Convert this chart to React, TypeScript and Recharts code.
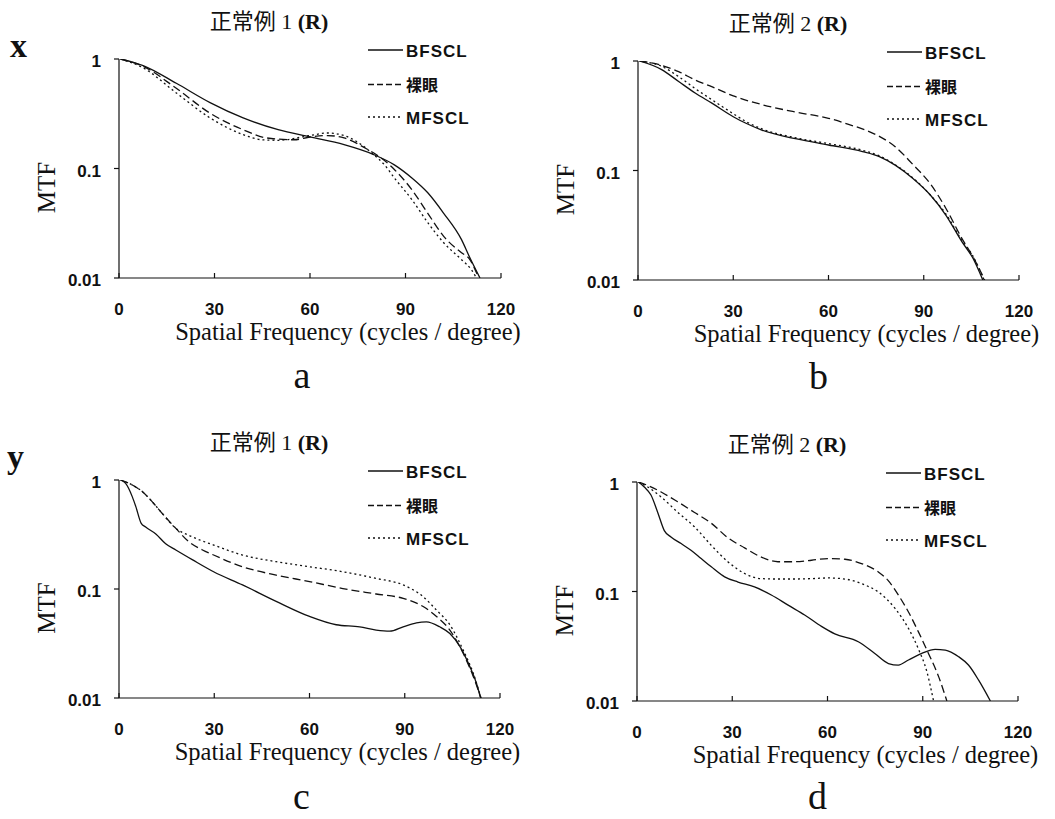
import React from 'react';
import { LineChart, Line, XAxis, YAxis } from 'recharts';

type P = [number, number];

// ---------- data (spatial frequency, MTF) ----------
const aBFSCL: P[] = [[0.5,1],[7.6,0.87],[18,0.6],[28.6,0.4],[39,0.29],[50,0.226],[60,0.194],[70.7,0.165],[80,0.134],[86.5,0.108],[92,0.082],[97,0.06],[102,0.039],[107.6,0.0224],[110,0.0158],[113.4,0.01]];
const aNaked: P[] = [[0.5,1],[7.6,0.857],[18,0.54],[28.6,0.32],[39,0.226],[46.5,0.19],[55,0.183],[60,0.194],[65.5,0.2],[70.7,0.19],[78,0.15],[81,0.133],[86.5,0.098],[92,0.064],[97,0.039],[102,0.024],[107.6,0.017],[110,0.015],[113,0.01]];
const aMFSCL: P[] = [[0.5,1],[7.6,0.83],[18,0.49],[28.6,0.29],[39,0.204],[44.9,0.183],[50,0.181],[60,0.2],[65.5,0.211],[70.7,0.2],[80,0.134],[83.4,0.108],[86.5,0.082],[92,0.052],[97,0.032],[102,0.021],[107.6,0.0147],[110.7,0.0119],[112.3,0.01]];

const bBFSCL: P[] = [[0.5,1],[7.6,0.83],[12.8,0.65],[18,0.51],[23.4,0.41],[30,0.31],[34,0.27],[39,0.234],[50,0.194],[60,0.171],[70.7,0.149],[76,0.134],[81,0.112],[86.5,0.085],[92,0.06],[97,0.039],[102,0.0224],[105.5,0.0158],[108.6,0.01]];
const bNaked: P[] = [[0.5,1],[7.6,0.91],[12.8,0.8],[18,0.67],[23.4,0.58],[30,0.48],[39,0.4],[50,0.34],[60,0.3],[67,0.26],[72,0.232],[76,0.205],[81,0.165],[86.5,0.114],[92,0.076],[97,0.045],[102,0.024],[105.5,0.0163],[109.2,0.01]];
const bMFSCL: P[] = [[0.5,1],[7.6,0.89],[12.8,0.72],[18,0.56],[23.4,0.44],[30,0.33],[34,0.28],[39,0.24],[50,0.198],[60,0.176],[70.7,0.153],[76,0.136],[81,0.113],[86.5,0.086],[92,0.06],[97,0.04],[102,0.023],[105.5,0.0165],[109,0.01]];

const cBFSCL: P[] = [[0.5,1],[2.1,0.93],[4.2,0.7],[5.3,0.57],[7,0.4],[8.4,0.37],[11.6,0.32],[14.7,0.26],[17.9,0.228],[23.2,0.185],[29.8,0.144],[38.9,0.109],[49.5,0.077],[60,0.056],[68.4,0.047],[75.8,0.045],[81,0.042],[85.3,0.041],[89.5,0.045],[93.7,0.049],[96.8,0.05],[101,0.045],[104.2,0.039],[107.4,0.0296],[110.5,0.0194],[112.6,0.0136],[113.9,0.01]];
const cNaked: P[] = [[0.5,1],[4.2,0.9],[7.4,0.78],[10.5,0.63],[13.7,0.49],[17.9,0.36],[22.1,0.27],[26.3,0.228],[29.8,0.205],[38.9,0.16],[49.5,0.134],[60,0.117],[70.5,0.101],[81,0.09],[89.5,0.082],[95.8,0.069],[100,0.056],[104.2,0.042],[108.4,0.0257],[111.6,0.0157],[114,0.01]];
const cMFSCL: P[] = [[0.5,1],[4.2,0.9],[7.4,0.78],[10.5,0.63],[13.7,0.49],[17.9,0.36],[22.1,0.31],[29.8,0.253],[38.9,0.205],[49.5,0.178],[60,0.16],[70.5,0.144],[81,0.125],[89.5,0.109],[95.8,0.085],[100,0.064],[104.2,0.047],[108.4,0.0275],[111.6,0.0168],[114,0.01]];

const dBFSCL: P[] = [[0.5,1],[2.3,0.9],[4.4,0.76],[6.5,0.53],[8.6,0.36],[10.7,0.315],[13.9,0.274],[17,0.238],[20.2,0.2],[23.4,0.168],[27.6,0.136],[31.8,0.122],[37,0.11],[42.3,0.093],[47.6,0.075],[52.8,0.061],[58.1,0.048],[62.3,0.041],[69.7,0.0348],[74.9,0.0272],[79.2,0.022],[82.3,0.0213],[85.5,0.0237],[89.7,0.0272],[93.9,0.0296],[97.1,0.0292],[101.3,0.0254],[104.4,0.0213],[107.6,0.0155],[111.3,0.01]];
const dNaked: P[] = [[0.5,1],[3.4,0.93],[7.6,0.81],[12.8,0.66],[18,0.53],[23.4,0.42],[28.6,0.31],[33.9,0.25],[39,0.207],[44.4,0.187],[49.7,0.187],[55,0.193],[60.2,0.2],[65.5,0.197],[70.7,0.18],[76,0.151],[79,0.127],[82.3,0.093],[85.5,0.065],[88.6,0.043],[91.8,0.0272],[95,0.0167],[97.6,0.01]];
const dMFSCL: P[] = [[0.5,1],[3.4,0.9],[7.6,0.73],[12.8,0.53],[18.1,0.39],[23.4,0.264],[28.6,0.187],[33.9,0.146],[39.2,0.131],[44.4,0.13],[49.7,0.13],[54.9,0.131],[60.2,0.133],[65.5,0.13],[70.7,0.118],[76,0.099],[81.3,0.07],[85.5,0.046],[88.6,0.03],[91.3,0.0185],[93.4,0.01]];

const seriesNames = ['BFSCL', '裸眼', 'MFSCL'];
const seriesDash = ['', '8 4', '2 3'];
const xTicks = [0, 30, 60, 90, 120];
const yTicks = [0.01, 0.1, 1];
const yTickLabels = ['0.01', '0.1', '1'];
const panelTitles = ['正常例 1', '正常例 2', '正常例 1', '正常例 2'];
const panelLetters = ['a', 'b', 'c', 'd'];
const rowLetters = ['x', 'y'];
const xTitle = 'Spatial Frequency (cycles / degree)';
const yTitle = 'MTF';

const panelData: P[][][] = [
  [aBFSCL, aNaked, aMFSCL],
  [bBFSCL, bNaked, bMFSCL],
  [cBFSCL, cNaked, cMFSCL],
  [dBFSCL, dNaked, dMFSCL],
];

// ---------- layout ----------
const plots = [
  { L: 119, T: 59, W: 382, H: 219 },
  { L: 638, T: 61, W: 381, H: 219 },
  { L: 119, T: 480, W: 381, H: 218 },
  { L: 637, T: 482, W: 381, H: 219 },
];
const letterBaselines = [388, 389, 809, 809];
const YW = 62;
const MT = 10;
const MR = 26;
const XH = 50;

const INK = '#111';
const SANS = "'Liberation Sans', Arial, Helvetica, sans-serif";
const SERIF = "'Liberation Serif', 'Times New Roman', 'Noto Sans CJK JP', serif";

const toPts = (arr: P[]) => arr.map(([f, v]) => ({ f, v }));

const XTick = (props: any) => {
  const { x, y, payload } = props;
  return (
    <g>
      <line x1={x} x2={x} y1={y} y2={y - 5} stroke={INK} strokeWidth={1.2} />
      <text x={x} y={y + 37} textAnchor="middle" fontFamily={SANS} fontWeight="bold" fontSize={17} fill={INK}>
        {payload.value}
      </text>
    </g>
  );
};

const YTick = (props: any) => {
  const { x, y, payload } = props;
  const idx = yTicks.indexOf(payload.value);
  return (
    <g>
      <line x1={x} x2={x - 5} y1={y} y2={y} stroke={INK} strokeWidth={1.2} />
      <text x={x - 18} y={y + 8} textAnchor="end" fontFamily={SANS} fontWeight="bold" fontSize={17} fill={INK}>
        {idx >= 0 ? yTickLabels[idx] : String(payload.value)}
      </text>
    </g>
  );
};

function Panel({ i }: { i: number }) {
  const p = plots[i];
  const w = YW + p.W + MR;
  const h = MT + p.H + XH;
  return (
    <div style={{ position: 'absolute', left: p.L - YW, top: p.T - MT, width: w, height: h }}>
      <LineChart width={w} height={h} margin={{ top: MT, right: MR, bottom: 0, left: 0 }}>
        <XAxis
          type="number"
          dataKey="f"
          domain={[0, 120]}
          ticks={xTicks}
          allowDataOverflow
          height={XH}
          tickSize={0}
          tickMargin={0}
          tickLine={false}
          axisLine={{ stroke: INK, strokeWidth: 1.2 }}
          tick={<XTick />}
          interval={0}
        />
        <YAxis
          type="number"
          dataKey="v"
          scale="log"
          domain={[0.01, 1]}
          ticks={yTicks}
          allowDataOverflow
          width={YW}
          tickSize={0}
          tickMargin={0}
          tickLine={false}
          axisLine={{ stroke: INK, strokeWidth: 1.2 }}
          tick={<YTick />}
          interval={0}
        />
        {panelData[i].map((s, k) => (
          <Line
            key={k}
            data={toPts(s)}
            dataKey="v"
            name={seriesNames[k]}
            type="monotone"
            dot={false}
            activeDot={false}
            stroke={INK}
            strokeWidth={1.3}
            strokeDasharray={seriesDash[k] || undefined}
            isAnimationActive={false}
          />
        ))}
      </LineChart>
    </div>
  );
}

const legendRows = [-9, 25.5, 58];

function Overlay() {
  return (
    <svg width={1055} height={819} style={{ position: 'absolute', left: 0, top: 0, pointerEvents: 'none' }}>
      {plots.map((p, i) => {
        const cx = p.L + p.W / 2;
        return (
          <g key={i}>
            <text x={p.L + 150} y={p.T - 30} textAnchor="middle" fontFamily={SERIF} fontSize={22} fill={INK}>
              {panelTitles[i]} <tspan fontWeight="bold">(R)</tspan>
            </text>
            <text
              transform={`translate(${p.L - 64},${p.T + p.H / 2 + 19}) rotate(-90)`}
              textAnchor="middle"
              fontFamily={SERIF}
              fontSize={25}
              fill={INK}
            >
              {yTitle}
            </text>
            <text x={cx + 38} y={p.T + p.H + 62} textAnchor="middle" fontFamily={SERIF} fontSize={24.5} fill={INK}>
              {xTitle}
            </text>
            <text x={cx - (i % 2 === 0 ? 8 : 10)} y={letterBaselines[i]} textAnchor="middle" fontFamily={SERIF} fontSize={38} fill={INK}>
              {panelLetters[i]}
            </text>
            {seriesNames.map((n, k) => (
              <g key={k}>
                <line
                  x1={p.L + 249}
                  x2={p.L + 284}
                  y1={p.T + legendRows[k]}
                  y2={p.T + legendRows[k]}
                  stroke={INK}
                  strokeWidth={1.3}
                  strokeDasharray={seriesDash[k] === '8 4' ? '6 3' : seriesDash[k] || undefined}
                />
                <text
                  x={p.L + 287}
                  y={p.T + legendRows[k] + 6.5}
                  fontFamily={SANS + ", 'Noto Sans CJK JP'"}
                  fontWeight="bold"
                  fontSize={k === 1 ? 16 : 17}
                  letterSpacing={k === 1 ? 0 : 1}
                  fill={INK}
                >
                  {n}
                </text>
              </g>
            ))}
          </g>
        );
      })}
      <text x={10} y={57} fontFamily={SERIF} fontWeight="bold" fontSize={34} fill={INK}>{rowLetters[0]}</text>
      <text x={7} y={468} fontFamily={SERIF} fontWeight="bold" fontSize={34} fill={INK}>{rowLetters[1]}</text>
    </svg>
  );
}

export default function App() {
  return (
    <div style={{ position: 'absolute', left: 0, top: 0, width: 1055, height: 819, background: '#fff' }}>
      {[0, 1, 2, 3].map((i) => (
        <Panel key={i} i={i} />
      ))}
      <Overlay />
    </div>
  );
}
